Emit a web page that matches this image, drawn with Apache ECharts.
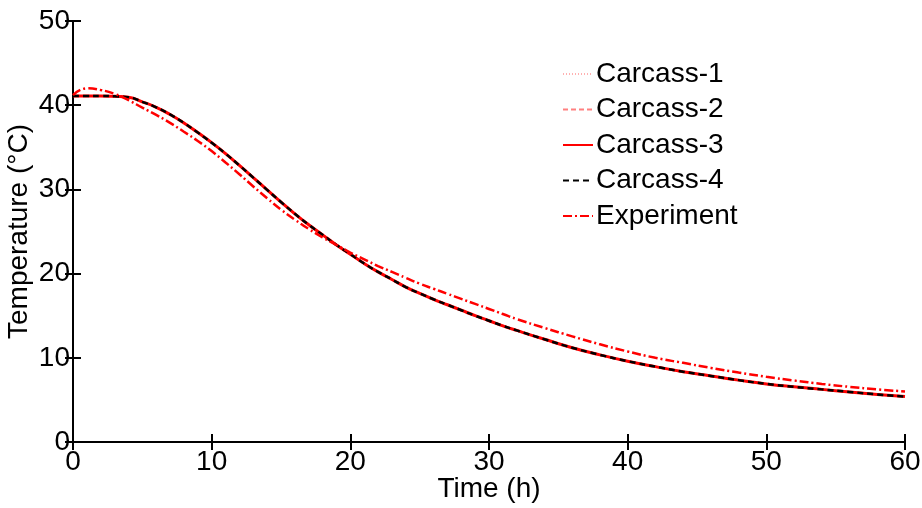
<!DOCTYPE html>
<html><head><meta charset="utf-8">
<script src="https://cdn.jsdelivr.net/npm/echarts@6/dist/echarts.min.js"></script>
<style>html,body{margin:0;padding:0;background:#fff}#c{width:922px;height:508px}</style>
</head><body><div id="c"></div>
<script>
const times = [0,1,2,3,4,5,6,7,8,9,10,11,12,13,14,15,16,17,18,19,20,21,22,23,24,25,26,27,28,29,30,31,32,34,36,38,40,42,44,46,48,50,52,54,56,58,60];
const carcass1 = [41.1,41.1,41.1,41.05,40.95,40.4,39.75,38.9,37.9,36.75,35.55,34.25,32.85,31.4,29.95,28.5,27.1,25.8,24.6,23.4,22.3,21.2,20.2,19.3,18.4,17.65,16.95,16.3,15.65,15.0,14.4,13.8,13.25,12.2,11.2,10.35,9.6,8.95,8.35,7.85,7.35,6.9,6.55,6.25,5.95,5.65,5.4];
const carcass2 = [41.1,41.1,41.1,41.05,40.95,40.4,39.75,38.9,37.9,36.75,35.55,34.25,32.85,31.4,29.95,28.5,27.1,25.8,24.6,23.4,22.3,21.2,20.2,19.3,18.4,17.65,16.95,16.3,15.65,15.0,14.4,13.8,13.25,12.2,11.2,10.35,9.6,8.95,8.35,7.85,7.35,6.9,6.55,6.25,5.95,5.65,5.4];
const carcass3 = [41.1,41.1,41.1,41.05,40.95,40.4,39.75,38.9,37.9,36.75,35.55,34.25,32.85,31.4,29.95,28.5,27.1,25.8,24.6,23.4,22.3,21.2,20.2,19.3,18.4,17.65,16.95,16.3,15.65,15.0,14.4,13.8,13.25,12.2,11.2,10.35,9.6,8.95,8.35,7.85,7.35,6.9,6.55,6.25,5.95,5.65,5.4];
const carcass4 = [41.1,41.1,41.1,41.05,40.95,40.4,39.75,38.9,37.9,36.75,35.55,34.25,32.85,31.4,29.95,28.5,27.1,25.8,24.6,23.4,22.3,21.2,20.2,19.3,18.4,17.65,16.95,16.3,15.65,15.0,14.4,13.8,13.25,12.2,11.2,10.35,9.6,8.95,8.35,7.85,7.35,6.9,6.55,6.25,5.95,5.65,5.4];
const experiment = [41.2,42.0,41.8,41.35,40.6,39.7,38.85,37.9,36.85,35.75,34.55,33.2,31.8,30.35,28.95,27.6,26.4,25.3,24.3,23.4,22.5,21.7,20.9,20.2,19.5,18.8,18.2,17.6,17.0,16.4,15.8,15.2,14.6,13.55,12.55,11.6,10.75,10.0,9.4,8.8,8.25,7.75,7.3,6.9,6.55,6.25,6.0];
const seriesNames = ['Carcass-1','Carcass-2','Carcass-3','Carcass-4','Experiment'];

const pairs = arr => times.map((t,i)=>[t,arr[i]]);
const font = 'Liberation Sans, Arial, sans-serif';
const FS = 28;
const chart = echarts.init(document.getElementById('c'), null, {renderer:'canvas'});
const axLine = {show:true, lineStyle:{color:'#000', width:2}};
const ticks = {show:true, inside:true, length:8, lineStyle:{color:'#000', width:2}};
chart.setOption({
  animation:false,
  backgroundColor:'#fff',
  grid:{left:73, right:17, top:21, bottom:66, containLabel:false, outerBoundsMode:'none'},
  legend:{
    orient:'vertical', left:562, top:60, padding:0, itemWidth:30, itemHeight:14, itemGap:7.5,
    itemStyle:{opacity:0},
    textStyle:{fontFamily:font, fontSize:FS, color:'#000', padding:[0,0,0,-2]},
    data:seriesNames
  },
  xAxis:[{
    type:'value', min:0, max:60, interval:10,
    name:'Time (h)', nameLocation:'middle', nameGap:33, nameMoveOverlap:false,
    nameTextStyle:{fontFamily:font, fontSize:FS, color:'#000'},
    axisLine:axLine, axisTick:ticks, splitLine:{show:false},
    axisLabel:{fontFamily:font, fontSize:FS, color:'#000', margin:6}
  },{
    type:'value', min:0, max:60, interval:10, position:'top',
    axisLine:axLine, axisTick:ticks, splitLine:{show:false}, axisLabel:{show:false}
  }],
  yAxis:[{
    type:'value', min:0, max:50, interval:10,
    name:'Temperature (°C)', nameLocation:'middle', nameGap:40, nameMoveOverlap:false,
    nameTextStyle:{fontFamily:font, fontSize:FS, color:'#000'},
    axisLine:axLine, axisTick:ticks, splitLine:{show:false},
    axisLabel:{fontFamily:font, fontSize:FS, color:'#000', margin:3}
  },{
    type:'value', min:0, max:50, interval:10, position:'right',
    axisLine:axLine, axisTick:ticks, splitLine:{show:false}, axisLabel:{show:false}
  }],
  series:[
    {name:seriesNames[0], type:'line', data:pairs(carcass1), symbol:'none', smooth:true, color:'#ffb0b0',
     lineStyle:{color:'#ffb0b0', width:2, type:[1,2]}},
    {name:seriesNames[1], type:'line', data:pairs(carcass2), symbol:'none', smooth:true, color:'#ff8080',
     lineStyle:{color:'#ff8080', width:2, type:[5,3]}},
    {name:seriesNames[2], type:'line', data:pairs(carcass3), symbol:'none', smooth:true, color:'#ff0000',
     lineStyle:{color:'#ff0000', width:3, type:'solid'}},
    {name:seriesNames[3], type:'line', data:pairs(carcass4), symbol:'none', smooth:true, color:'#000',
     lineStyle:{color:'#000', width:2.5, type:[6,4]}},
    {name:seriesNames[4], type:'line', data:pairs(experiment), symbol:'none', smooth:true, color:'#ff0000',
     lineStyle:{color:'#ff0000', width:2.5, type:[9,3,2,3]}}
  ]
});
</script></body></html>
